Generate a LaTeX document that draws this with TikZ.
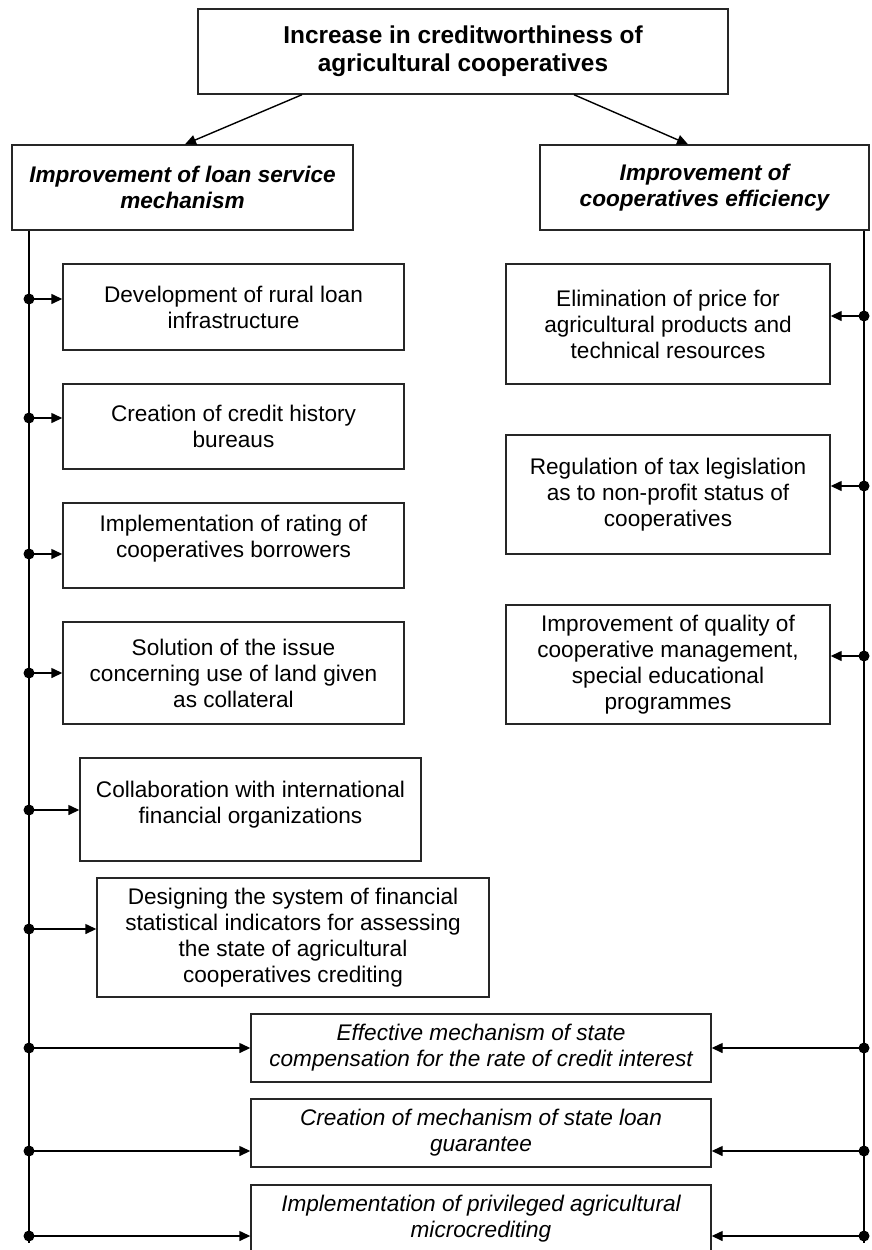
\documentclass[tikz,border=0pt]{standalone}
\usepackage{fontspec}
\setmainfont{Liberation Sans}
\usetikzlibrary{arrows.meta,calc}
\begin{document}
\begin{tikzpicture}[x=1pt,y=-1pt,
  box/.style={draw=black!85, line width=1.4pt, align=center, inner sep=0pt, font=\fontsize{22.6}{26}\selectfont},
  hdr/.style={box, font=\fontsize{22.6}{26}\selectfont\bfseries\itshape},
  ital/.style={box, font=\fontsize{22.6}{26}\selectfont\itshape},
  ttl/.style={box, font=\fontsize{24.4}{28}\selectfont\bfseries},
  conn/.style={line width=1.4pt, -{Triangle[length=11pt,width=10pt]}},
  trunk/.style={line width=1.4pt}]
\useasboundingbox (0,0) rectangle (871,1250);

% title and headers
\node[ttl, minimum width=530pt, minimum height=85pt] (title) at (463,51.5) {Increase in creditworthiness of\\agricultural cooperatives};
\node[hdr, minimum width=341pt, minimum height=85pt] (lb) at (182.5,187.5) {Improvement of loan service\\mechanism};
\node[hdr, minimum width=329pt, minimum height=85pt] (rb) at (704.5,187.5) {Improvement of\\cooperatives efficiency};

\draw[conn] ($(title.south)+(-161,0)$) -- ($(lb.north)+(2.5,0)$);
\draw[conn] ($(title.south)+(111,0)$) -- ($(rb.north)+(-16.5,0)$);

% left column boxes
\node[box, minimum width=341pt, minimum height=86pt] (b1) at (233.5,307) {Development of rural loan\\infrastructure};
\node[box, minimum width=341pt, minimum height=85pt] (b2) at (233.5,426.5) {Creation of credit history\\bureaus};
\node[box, minimum width=341pt, minimum height=85pt] (b3) at (233.5,545.5) {Implementation of rating of\\cooperatives borrowers\rule[-19pt]{0pt}{0pt}};
\node[box, minimum width=341pt, minimum height=102pt] (b4) at (233.5,673) {Solution of the issue\\concerning use of land given\\as collateral};
\node[box, minimum width=341pt, minimum height=103pt] (b5) at (250.5,809.5) {Collaboration with international\\financial organizations\rule[-15pt]{0pt}{0pt}};
\node[box, minimum width=392pt, minimum height=119pt] (b6) at (293,937.5) {Designing the system of financial\\statistical indicators for assessing\\the state of agricultural\\cooperatives crediting};

% bottom shared boxes
\node[ital, minimum width=460pt, minimum height=68pt] (b7) at (481,1048) {Effective mechanism of state\\compensation for the rate of credit interest};
\node[ital, minimum width=460pt, minimum height=68pt] (b8) at (481,1133) {Creation of mechanism of state loan\\guarantee};
\node[ital, minimum width=460pt, minimum height=68pt] (b9) at (481,1219) {Implementation of privileged agricultural\\microcrediting};

% right column boxes
\node[box, minimum width=324pt, minimum height=120pt] (r1b) at (668,324) {Elimination of price for\\agricultural products and\\technical resources};
\node[box, minimum width=324pt, minimum height=119pt] (r2b) at (668,494.5) {Regulation of tax legislation\\as to non-profit status of\\cooperatives};
\node[box, minimum width=324pt, minimum height=119pt] (r3b) at (668,664.5) {Improvement of quality of\\cooperative management,\\special educational\\programmes};

% trunks
\coordinate (l0) at (29,1243);
\coordinate (r0) at (864,1243);
\draw[trunk] (lb.south -| l0) -- (l0);
\draw[trunk] (rb.south -| r0) -- (r0);

% left branches
\foreach \y/\b in {299/b1, 418/b2, 554/b3, 673/b4, 810/b5, 929/b6, 1048/b7, 1151/b8, 1236/b9}{
  \coordinate (lp) at (29,\y);
  \draw[conn] (lp) -- (\b.west |- lp);
  \fill (lp) circle (5.5pt);
}
% right branches
\foreach \y/\b in {316/r1b, 486/r2b, 656/r3b, 1048/b7, 1151/b8, 1236/b9}{
  \coordinate (rp) at (864,\y);
  \draw[conn] (rp) -- (\b.east |- rp);
  \fill (rp) circle (5.5pt);
}
\end{tikzpicture}
\end{document}
